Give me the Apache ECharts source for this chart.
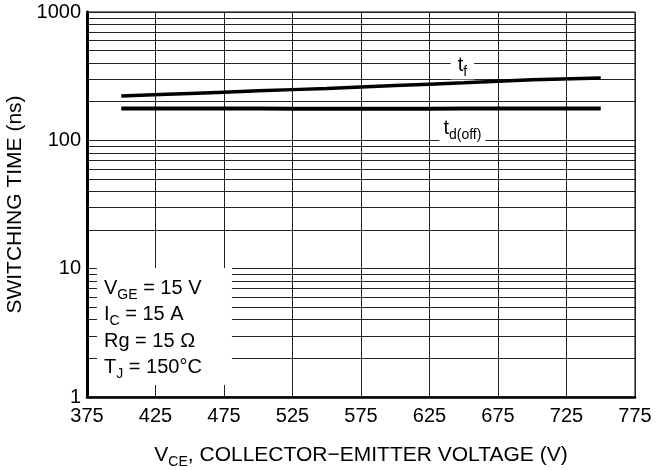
<!DOCTYPE html>
<html>
<head>
<meta charset="utf-8">
<script src="https://cdn.jsdelivr.net/npm/echarts@6/dist/echarts.min.js"></script>
<style>
  html, body { margin: 0; padding: 0; background: #fff; }
  #chart { width: 658px; height: 470px; }
</style>
</head>
<body>
<div id="chart"></div>
<script>
  // 数据
  var vce = [400, 450, 500, 550, 600, 650, 700, 750];
  var tf = [222, 232, 243, 254, 267, 281, 296, 306];
  var tdOff = [177, 177, 177, 176, 176, 177, 177, 177];
  var minorLines = [2, 3, 4, 5, 6, 7, 8, 9, 20, 30, 40, 50, 60, 70, 80, 90, 200, 300, 400, 500, 600, 700, 800, 900];
  var xTicks = [375, 425, 475, 525, 575, 625, 675, 725, 775];
  var yTicks = [1, 10, 100, 1000];

  var font = 'Liberation Sans';
  var chart = echarts.init(document.getElementById('chart'));

  function pairs(xs, ys) {
    return xs.map(function (x, i) { return [x, ys[i]]; });
  }

  // 下标样式
  function richSub(lh, size) {
    size = size || 20;
    return {
      n: { fontFamily: font, fontSize: size, color: '#000', lineHeight: lh },
      s: { fontFamily: font, fontSize: 14, color: '#000', lineHeight: 8, padding: [14, 0, 0, 0] }
    };
  }

  var option = {
    animation: false,
    backgroundColor: '#fff',
    grid: {
      left: 87, right: 23, top: 12, bottom: 73,
      outerBoundsMode: 'none', containLabel: false,
      show: true, borderColor: '#000', borderWidth: 1
    },
    xAxis: {
      type: 'value',
      min: xTicks[0],
      max: xTicks[xTicks.length - 1],
      interval: 50,
      axisLine: { show: true, lineStyle: { color: '#000', width: 2.5 } },
      axisTick: { show: false },
      axisLabel: { color: '#000', fontFamily: font, fontSize: 20, margin: 9 },
      splitLine: { show: true, lineStyle: { color: '#222', width: 1 } }
    },
    yAxis: {
      type: 'log',
      logBase: 10,
      min: yTicks[0],
      max: yTicks[yTicks.length - 1],
      name: 'SWITCHING TIME (ns)',
      nameLocation: 'middle',
      nameGap: 59,
      nameTextStyle: { color: '#000', fontFamily: font, fontSize: 21 },
      axisLine: { show: true, lineStyle: { color: '#000', width: 3 } },
      axisTick: { show: false },
      axisLabel: {
        color: '#000', fontFamily: font, fontSize: 20, margin: 6,
        formatter: function (v) { return String(v); }
      },
      splitLine: { show: true, lineStyle: { color: '#222', width: 1 } }
    },
    series: [
      {
        name: 'tf',
        type: 'line',
        data: pairs(vce, tf),
        showSymbol: false,
        smooth: 0.3,
        z: 5,
        lineStyle: { color: '#000', width: 3.5 }
      },
      {
        name: 'td(off)',
        type: 'line',
        data: pairs(vce, tdOff),
        showSymbol: false,
        smooth: 0.3,
        z: 5,
        lineStyle: { color: '#000', width: 4 },
        markLine: {
          silent: true,
          symbol: 'none',
          label: { show: false },
          lineStyle: { color: '#222', width: 1, type: 'solid' },
          z: 1,
          data: minorLines.map(function (v) { return { yAxis: v }; })
        }
      }
    ]
  };

  chart.setOption(option);

  // 标注位置由坐标轴换算
  var pTf = chart.convertToPixel({ gridIndex: 0 }, [649, 377]);
  var pTd = chart.convertToPixel({ gridIndex: 0 }, [649, 124]);
  var pBox = chart.convertToPixel({ gridIndex: 0 }, [382.3, 10.1]);
  var pBox2 = chart.convertToPixel({ gridIndex: 0 }, [480.8, 1.24]);
  var pName = chart.convertToPixel({ gridIndex: 0 }, [575, 1]);

  chart.setOption({
    graphic: [
      {
        type: 'rect', z: 50,
        shape: { x: pBox[0], y: pBox[1], width: pBox2[0] - pBox[0], height: pBox2[1] - pBox[1] },
        style: { fill: '#fff' }
      },
      {
        type: 'text', z: 51, left: pBox[0] + 7, top: pBox[1] + 6,
        style: {
          text: '{n|V}{s|GE}{n| = 15 V}\n{n|I}{s|C}{n| = 15 A}\n{n|Rg = 15 Ω}\n{n|T}{s|J}{n| = 150°C}',
          rich: richSub(26.5)
        }
      },
      {
        type: 'text', z: 51, x: pTf[0], y: pTf[1] - 1,
        style: {
          text: '{n|t}{s|f}', align: 'center', verticalAlign: 'middle',
          backgroundColor: '#fff', padding: [2, 7, 2, 7], rich: richSub(24)
        }
      },
      {
        type: 'text', z: 51, x: pTd[0], y: pTd[1],
        style: {
          text: '{n|t}{s|d(off)}', align: 'center', verticalAlign: 'middle',
          backgroundColor: '#fff', padding: [2, 4, 2, 4], rich: richSub(24)
        }
      },
      {
        type: 'text', z: 51, x: pName[0], y: 455,
        style: {
          text: '{n|V}{s|CE}{n|, COLLECTOR\u2212EMITTER VOLTAGE (V)}',
          align: 'center', verticalAlign: 'middle',
          rich: richSub(24, 21)
        }
      }
    ]
  });
</script>
</body>
</html>
